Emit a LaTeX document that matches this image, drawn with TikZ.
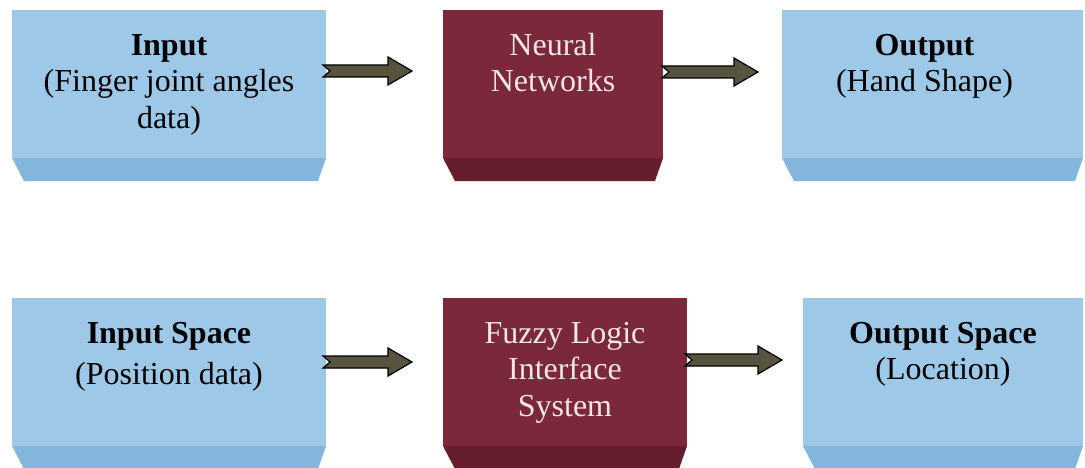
\documentclass[tikz,border=0pt]{standalone}
\usepackage{fontspec}
\setmainfont{Liberation Serif}
\usetikzlibrary{positioning,calc}

\definecolor{boxblue}{RGB}{157,200,232}
\definecolor{boxblueside}{RGB}{132,181,221}
\definecolor{boxmaroon}{RGB}{122,40,58}
\definecolor{boxmaroonside}{RGB}{102,30,46}
\definecolor{arrowolive}{RGB}{88,83,62}
\definecolor{palepink}{RGB}{242,230,232}

\tikzset{
    block/.style={rectangle,inner sep=0pt,outer sep=0pt,minimum height=148pt},
    blueblock/.style={block,fill=boxblue},
    redblock/.style={block,fill=boxmaroon},
    blocktext/.style={align=center,anchor=north,inner sep=0pt,
        font=\fontsize{32}{36.5}\selectfont,execute at begin node=\strut},
    fatarrow/.style={fill=arrowolive,draw=black,line width=1.2pt,
        to path={let \p1=(\tikztostart),\p2=(\tikztotarget) in
            (\x1,\y1+6pt) -- (\x2-24pt,\y1+6pt) -- (\x2-24pt,\y1+14pt) -- (\x2,\y1)
            -- (\x2-24pt,\y1-14pt) -- (\x2-24pt,\y1-6pt) -- (\x1,\y1-6pt) -- (\x1+7pt,\y1) -- cycle}},
}

\begin{document}
\begin{tikzpicture}[x=1pt,y=1pt]
    \fill[white] (0,0) rectangle (1085,467);
    \useasboundingbox (0,0) rectangle (1085,467);

    \node[blueblock,minimum width=314pt] (a1) at (169,383) {};
    \node[redblock,minimum width=220pt,right=117pt of a1] (a2) {};
    \node[blueblock,minimum width=301pt,right=119pt of a2] (a3) {};

    \node[blueblock,minimum width=314pt,below=140pt of a1] (b1) {};
    \node[redblock,minimum width=244pt,right=117pt of b1] (b2) {};
    \node[blueblock,minimum width=280pt,right=116pt of b2] (b3) {};

    \foreach \n/\c in {a1/boxblueside,a2/boxmaroonside,a3/boxblueside,
                       b1/boxblueside,b2/boxmaroonside,b3/boxblueside} {
        \fill[\c] (\n.south west) -- (\n.south east)
            -- ([xshift=-8pt,yshift=-23pt]\n.south east)
            -- ([xshift=12pt,yshift=-23pt]\n.south west) -- cycle;
    }

    \node[blocktext] (a1t) at ($(a1.north)+(0,-24)$) {\textbf{Input}\\(Finger joint angles\\data)};
    \node[blocktext,text=palepink] (a2t) at ($(a2.north)+(0,-23)$) {Neural\\Networks};
    \node[blocktext] (a3t) at ($(a3.north)+(-8,-24)$) {\textbf{Output}\\(Hand Shape)};

    \node[blocktext] (b1t) at ($(b1.north)+(0,-24)$) {\textbf{Input Space}\\[5pt](Position data)};
    \node[blocktext,text=palepink] (b2t) at ($(b2.north)+(0,-24)$) {Fuzzy Logic\\Interface\\System};
    \node[blocktext] (b3t) at ($(b3.north)+(0,-24)$) {\textbf{Output Space}\\(Location)};

    \coordinate (c1) at ($(a1.east)+(-3,13)$);
    \coordinate (c2) at ($(a2.west)+(-31,13)$);
    \coordinate (c3) at ($(a2.east)+(-1,12)$);
    \coordinate (c4) at ($(a3.west)+(-24,12)$);

    \coordinate (d1) at ($(b1.east)+(-3,10)$);
    \coordinate (d2) at ($(b2.west)+(-31,10)$);
    \coordinate (d3) at ($(b2.east)+(-2,12)$);
    \coordinate (d4) at ($(b3.west)+(-21,12)$);

    \path[fatarrow] (c1) to (c2);
    \path[fatarrow] (c3) to (c4);
    \path[fatarrow] (d1) to (d2);
    \path[fatarrow] (d3) to (d4);
\end{tikzpicture}
\end{document}
